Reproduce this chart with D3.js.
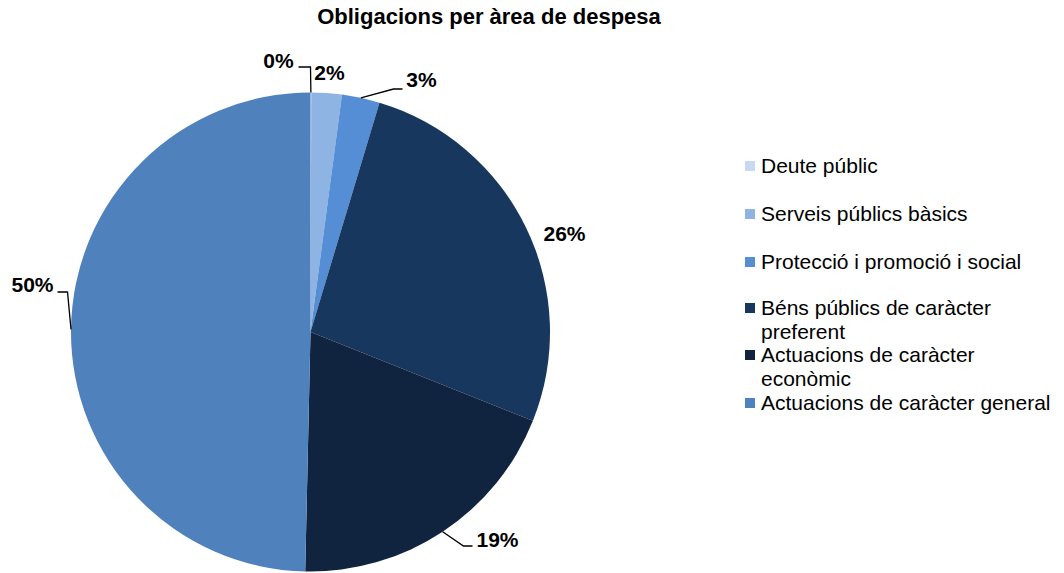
<!DOCTYPE html>
<html><head><meta charset="utf-8">
<script src="https://cdn.jsdelivr.net/npm/d3@7"></script>
<style>body{margin:0;background:#fff}svg{display:block}</style>
</head><body>
<svg id="c" width="1064" height="573"></svg>
<script>
const categories = ["Deute públic","Serveis públics bàsics","Protecció i promoció i social","Béns públics de caràcter preferent","Actuacions de caràcter econòmic","Actuacions de caràcter general"];
const legendLines = [["Deute públic"],["Serveis públics bàsics"],["Protecció i promoció i social"],["Béns públics de caràcter","preferent"],["Actuacions de caràcter","econòmic"],["Actuacions de caràcter general"]];
const values = [0.05, 2.05, 2.55, 26.4, 19.3, 49.65];
const percentLabels = ["0%","2%","3%","26%","19%","50%"];
const colors = ["#c6d9f1","#8eb4e3","#558ed5","#17375e","#10243f","#4f81bd"];
// label layout: [dx, dy] of label center relative to pie center; leader: [elbowDx, elbowDy, endDx] or null
const labelPos = [[-32,-271],[19,-259],[111,-252],[254,-98],[187,208],[-278,-47]];
const leaders = [[0,-265,-12],null,[83,-243,9],null,[153,214,9],[-243,-40,-10]];

const svg = d3.select("#c");
const cx = 310.5, cy = 332, R = 239.5;
svg.append("text").attr("x",489).attr("y",24).attr("text-anchor","middle")
  .attr("font-family","Liberation Sans, Arial, sans-serif").attr("font-weight","bold").attr("font-size",22)
  .text("Obligacions per àrea de despesa");

const pie = d3.pie().sort(null).value(d=>d)(values);
const arc = d3.arc().innerRadius(0).outerRadius(R);
const g = svg.append("g").attr("transform",`translate(${cx},${cy})`);
g.selectAll("path").data(pie).join("path").attr("d",arc).attr("fill",(d,i)=>colors[i]);

pie.forEach((d,i)=>{
  const a = (d.startAngle+d.endAngle)/2;
  const sx = R*Math.sin(a), sy = -R*Math.cos(a);
  const L = leaders[i];
  if (L) {
    g.append("polyline").attr("points",`${sx},${sy} ${L[0]},${L[1]} ${L[0]+L[2]},${L[1]}`)
      .attr("fill","none").attr("stroke","#000").attr("stroke-width",1.3);
  }
  g.append("text").attr("x",labelPos[i][0]).attr("y",labelPos[i][1]).attr("dy","0.35em")
    .attr("text-anchor","middle").attr("font-family","Liberation Sans, Arial, sans-serif")
    .attr("font-weight","bold").attr("font-size",21).text(percentLabels[i]);
});

const legY = [166,214,262,308,355,403];
const lg = svg.append("g");
categories.forEach((c,i)=>{
  lg.append("rect").attr("x",745).attr("y",legY[i]-5).attr("width",10).attr("height",10).attr("fill",colors[i]);
  const t = lg.append("text").attr("x",761).attr("y",legY[i])
    .attr("font-family","Liberation Sans, Arial, sans-serif").attr("font-size",21).attr("fill","#000");
  legendLines[i].forEach((ln,j)=>{
    t.append("tspan").attr("x",761).attr("dy", j===0 ? "0.35em" : "24").text(ln);
  });
});
</script>
</body></html>
